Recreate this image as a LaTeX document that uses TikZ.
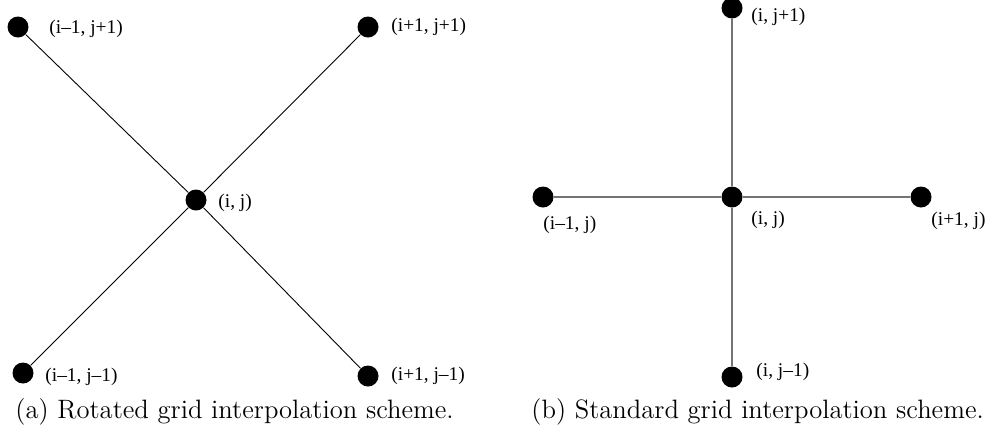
\documentclass[tikz,border=0pt]{standalone}
\usepackage{fontspec}
\newfontfamily\labfont{Liberation Serif}
\begin{document}
\begin{tikzpicture}[x=0.5pt,y=-0.5pt,
  dot/.style={circle,fill=black,inner sep=0pt,minimum size=10.5pt},
  lab/.style={font=\labfont\fontsize{9.7}{11}\selectfont,inner sep=0pt,anchor=west},
  captext/.style={font=\fontsize{13.3}{16}\selectfont,inner sep=0pt,anchor=base west},
  lineA/.style={black,line width=0.45pt},
  lineB/.style={black!55,line width=0.7pt}]
\useasboundingbox (0,0) rectangle (995,440);
% (a)
\node[dot] (a0) at (196,200) {};
\node[dot] (a1) at (18,27) {};
\node[dot] (a2) at (368,27) {};
\node[dot] (a3) at (23,373) {};
\node[dot] (a4) at (368,376) {};
\draw[lineA] (a1) -- (a0);
\draw[lineA] (a2) -- (a0);
\draw[lineA] (a3) -- (a0);
\draw[lineA] (a4) -- (a0);
\node[lab] (la1) at (49,29) {(i–1, j+1)};
\node[lab] (la2) at (391,27) {(i+1, j+1)};
\node[lab] (la0) at (218,203) {(i, j)};
\node[lab] (la3) at (45,377) {(i–1, j–1)};
\node[lab] (la4) at (391,376) {(i+1, j–1)};
\node[captext] (capa) at (15,418) {(a) Rotated grid interpolation scheme.};
% (b)
\node[dot] (b0) at (732,197) {};
\node[dot] (b1) at (732,8) {};
\node[dot] (b2) at (543,197) {};
\node[dot] (b3) at (921,197) {};
\node[dot] (b4) at (732,377) {};
\draw[lineB] (b1) -- (b0);
\draw[lineB] (b2) -- (b0);
\draw[lineB] (b3) -- (b0);
\draw[lineB] (b4) -- (b0);
\node[lab] (lb1) at (751,17) {(i, j+1)};
\node[lab] (lb0) at (751,220) {(i, j)};
\node[lab] (lb2) at (543,225) {(i–1, j)};
\node[lab] (lb3) at (931,221) {(i+1, j)};
\node[lab] (lb4) at (756,372) {(i, j–1)};
\node[captext] (capb) at (531,418) {(b) Standard grid interpolation scheme.};
\end{tikzpicture}
\end{document}
